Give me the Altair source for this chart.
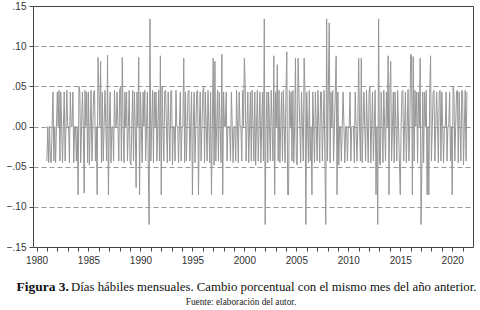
import altair as alt
import pandas as pd

# Monthly working days, % change vs same month of previous year (from 1981-01)
START_YEAR = 1981
CH_1981_1989 = [
    -0.043, 0.0, -0.045, 0.0, -0.043, -0.045, 0.0, 0.043, -0.043, 0.0, -0.045, 0.0,
    0.043, 0.0, 0.045, -0.043, 0.043, 0.0, -0.045, 0.0, 0.043, -0.043, 0.0, 0.045,
    0.0, 0.0, -0.045, 0.043, 0.0, 0.0, 0.043, -0.045, 0.0, 0.0, -0.043, 0.0,
    -0.085, 0.05, 0.043, -0.045, 0.0, 0.043, 0.0, -0.083, 0.045, 0.0, 0.043, -0.045,
    0.043, -0.048, 0.0, 0.045, -0.043, 0.0, 0.043, 0.045, -0.043, 0.0, -0.085, 0.086,
    0.043, 0.0, 0.081, -0.045, 0.043, -0.043, 0.0, 0.045, 0.0, -0.043, 0.089, -0.085,
    0.0, 0.043, -0.045, 0.0, 0.0, -0.043, 0.045, 0.0, 0.0, 0.043, 0.0, -0.043,
    0.045, 0.05, -0.043, 0.086, 0.0, -0.045, 0.043, 0.0, 0.043, -0.043, 0.0, 0.045,
    -0.043, -0.048, 0.0, 0.045, -0.043, 0.043, 0.0, -0.076, 0.043, 0.0, 0.086, -0.085,
]
CH_1990_1999 = [
    0.043, 0.0, -0.045, 0.043, 0.0, 0.045, -0.043, 0.0, 0.043, -0.045, -0.122, 0.134,
    -0.043, 0.0, 0.045, -0.045, 0.043, 0.0, 0.043, -0.043, 0.0, 0.045, -0.043, 0.088,
    -0.085, 0.05, 0.0, -0.043, 0.043, 0.045, 0.0, -0.045, 0.043, 0.0, -0.043, 0.043,
    0.045, -0.048, 0.0, 0.0, -0.043, 0.045, 0.0, 0.0, -0.045, 0.0, 0.043, -0.043,
    0.0, 0.0, 0.085, -0.045, 0.043, -0.043, 0.0, 0.043, 0.045, -0.043, 0.0, 0.043,
    -0.085, 0.0, 0.043, -0.045, 0.0, 0.043, 0.045, -0.085, 0.0, 0.043, -0.043, 0.0,
    0.043, 0.05, -0.045, 0.043, 0.0, -0.043, 0.045, 0.0, -0.045, 0.043, -0.085, 0.0,
    0.085, -0.048, 0.081, -0.043, 0.0, 0.045, -0.043, 0.043, 0.0, -0.045, 0.09, -0.085,
    0.043, 0.0, 0.0, 0.043, -0.043, 0.0, 0.0, 0.0, -0.043, 0.043, 0.0, -0.045,
    0.0, 0.0, -0.043, 0.045, 0.0, -0.045, 0.043, 0.0, 0.0, -0.043, 0.045, 0.0,
]
CH_2000_2009 = [
    0.085, 0.05, -0.043, 0.0, 0.043, -0.045, 0.0, 0.043, -0.043, 0.045, 0.0, -0.043,
    0.043, -0.048, 0.0, 0.045, -0.043, 0.0, 0.043, -0.045, 0.0, 0.043, -0.043, 0.134,
    -0.122, 0.0, 0.043, -0.045, 0.043, 0.0, -0.043, 0.045, 0.0, -0.043, 0.088, -0.085,
    0.043, 0.0, 0.077, -0.043, 0.045, -0.045, 0.0, 0.043, -0.043, 0.045, 0.0, -0.045,
    0.043, 0.093, -0.085, -0.085, 0.045, 0.0, 0.043, -0.043, 0.045, -0.045, 0.0, 0.085,
    -0.043, -0.048, 0.085, 0.043, 0.0, -0.045, 0.043, 0.0, -0.043, 0.085, 0.045, -0.122,
    0.043, 0.0, -0.045, 0.045, -0.043, 0.0, -0.085, 0.043, 0.0, -0.045, 0.043, 0.0,
    -0.043, 0.045, 0.0, -0.045, 0.043, 0.043, -0.043, 0.0, 0.045, -0.043, -0.122, 0.134,
    -0.043, 0.05, 0.129, -0.045, 0.043, 0.0, 0.045, -0.043, 0.0, 0.043, 0.088, -0.085,
    0.043, -0.048, 0.0, 0.0, -0.043, 0.0, 0.043, 0.0, -0.045, 0.0, 0.0, -0.043,
]
CH_2010_2019 = [
    0.0, 0.0, 0.043, -0.043, 0.0, 0.0, 0.0, -0.045, 0.043, 0.0, -0.043, 0.0,
    0.085, 0.0, -0.043, 0.085, -0.045, 0.0, 0.043, 0.0, -0.043, 0.045, 0.0, -0.045,
    0.043, 0.05, -0.045, 0.0, 0.043, -0.043, 0.0, 0.045, -0.085, 0.0, -0.122, 0.134,
    -0.043, -0.048, 0.043, 0.0, -0.045, 0.045, 0.0, -0.043, 0.043, 0.0, 0.088, -0.085,
    0.045, 0.081, -0.043, 0.0, 0.043, -0.045, 0.043, 0.0, -0.043, 0.045, 0.0, -0.043,
    -0.085, 0.0, 0.043, 0.045, -0.043, 0.0, 0.043, -0.045, 0.0, 0.046, -0.043, 0.0,
    0.09, 0.088, -0.085, 0.087, -0.043, 0.045, 0.0, 0.043, -0.045, 0.043, 0.0, 0.085,
    -0.122, -0.048, 0.043, -0.045, 0.043, 0.0, 0.045, -0.085, 0.0, -0.085, 0.043, 0.088,
    -0.043, 0.0, 0.043, 0.045, -0.043, 0.0, 0.043, 0.0, -0.045, 0.043, 0.045, -0.043,
    0.043, 0.0, -0.045, 0.0, 0.0, 0.043, -0.043, 0.0, 0.0, 0.043, -0.043, 0.0,
]
CH_2020_2021 = [
    -0.085, 0.05, 0.043, -0.043, 0.0, 0.043, 0.045, -0.045, 0.043, 0.0, -0.043, 0.045,
    0.043, -0.048, 0.0, 0.045, -0.043, 0.043,
]

Y_TICKS = [-0.15, -0.10, -0.05, 0.0, 0.05, 0.10, 0.15]
X_TICKS = list(range(1980, 2022))
X_DOMAIN = [1979.66, 2022.0]

CAPTION_BOLD = "Figura 3."
CAPTION_TEXT = "Días hábiles mensuales. Cambio porcentual con el mismo mes del año anterior."
SOURCE_TEXT = "Fuente:  elaboración  del  autor."

values = CH_1981_1989 + CH_1990_1999 + CH_2000_2009 + CH_2010_2019 + CH_2020_2021
df = pd.DataFrame({
    "t": [START_YEAR + i / 12 for i in range(len(values))],
    "v": values,
})

W, H = 440, 241

line = alt.Chart(df).mark_line(color="#969696", strokeWidth=1, clip=True).encode(
    x=alt.X(
        "t:Q",
        scale=alt.Scale(domain=X_DOMAIN, nice=False, zero=False),
        axis=alt.Axis(
            values=X_TICKS,
            labelExpr="datum.value % 5 == 0 ? format(datum.value, 'd') : ''",
            title=None, grid=False, domain=False,
            tickSize=4, tickColor="#444", labelColor="#333",
            labelFont="Liberation Sans", labelFontSize=10, labelPadding=4,
            labelFlush=False, labelOverlap=False,
        ),
    ),
    y=alt.Y(
        "v:Q",
        scale=alt.Scale(domain=[-0.15, 0.15], nice=False),
        axis=alt.Axis(
            values=Y_TICKS,
            labelExpr="replace(format(datum.value, '.2f'), '0.', '.')",
            title=None, grid=True, gridColor="#999", gridDash=[5, 3],
            gridOpacity={"condition": {"test": "abs(datum.value) > 0.14", "value": 0}, "value": 1},
            domain=False, tickSize=4, tickColor="#444", labelColor="#333",
            labelFont="Liberation Sans", labelFontSize=10, labelPadding=3,
            labelFlush=False, labelOverlap=False,
        ),
    ),
)

one = alt.Data(values=[{}])
bold = alt.Chart(one).mark_text(
    font="Liberation Serif", fontSize=13.5, fontWeight="bold", align="right",
    baseline="middle", color="#111",
).encode(x=alt.value(36), y=alt.value(281), text=alt.value(CAPTION_BOLD))

caption = alt.Chart(one).mark_text(
    font="Liberation Serif", fontSize=12.8, align="left",
    baseline="middle", color="#111",
).encode(x=alt.value(38), y=alt.value(281), text=alt.value(CAPTION_TEXT))

source = alt.Chart(one).mark_text(
    font="Liberation Serif", fontSize=9.3, align="center",
    baseline="middle", color="#222",
).encode(x=alt.value(208), y=alt.value(296), text=alt.value(SOURCE_TEXT))

chart = alt.layer(line, bold, caption, source).properties(
    width=W, height=H,
    autosize=alt.AutoSizeParams(type="none"),
    padding={"left": 33, "top": 6, "right": 7, "bottom": 63},
    background="white",
).configure_view(stroke="#444", strokeWidth=1)

chart.save("out.html", embed_options={"renderer": "svg", "actions": False})
